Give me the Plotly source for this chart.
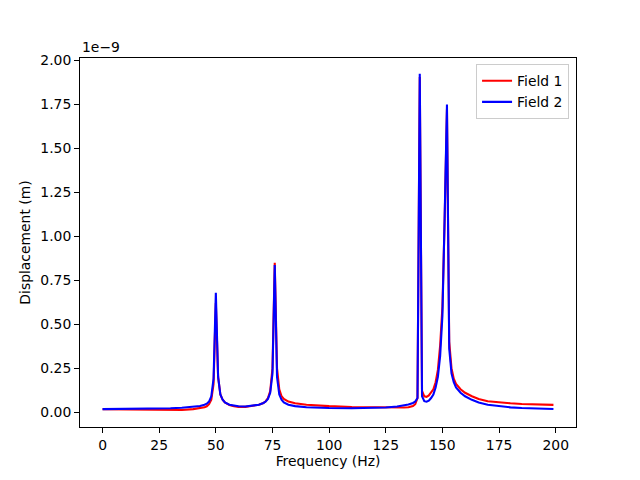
import plotly.graph_objects as go

# Frequencies (Hz)
freq = [0, 10, 20, 25, 30, 35, 40, 43, 45, 46, 47, 48, 49, 50, 51, 52, 53, 54, 56, 58,
        60, 63, 66, 69, 71, 72, 73, 74, 75, 76, 77, 78, 79, 80, 82, 85, 90, 95, 100,
        110, 120, 125, 130, 133, 135, 137, 138, 139, 140, 141, 142, 143, 144, 145, 146,
        147, 148, 149, 150, 151, 152, 153, 154, 155, 156, 158, 160, 163, 166, 170, 175,
        180, 185, 190, 199]

# Displacement in units of 1e-9 m
field1 = [0.016, 0.015, 0.013, 0.012, 0.011, 0.012, 0.017, 0.021, 0.027, 0.033, 0.045,
          0.07, 0.16, 0.62, 0.2, 0.1, 0.07, 0.055, 0.04, 0.033,
          0.03, 0.03, 0.034, 0.042, 0.052, 0.062, 0.08, 0.12, 0.25, 0.849, 0.25, 0.13,
          0.09, 0.075, 0.06, 0.05, 0.042, 0.037, 0.034,
          0.029, 0.026, 0.025, 0.025, 0.026, 0.028, 0.035, 0.045, 0.08, 1.905, 0.12,
          0.09, 0.087, 0.095, 0.11, 0.13,
          0.17, 0.24, 0.38, 0.6, 1.1, 1.72, 0.4, 0.25, 0.19, 0.16, 0.13, 0.11, 0.09,
          0.075, 0.062, 0.055,
          0.05, 0.046, 0.044, 0.041]

field2 = [0.017, 0.018, 0.019, 0.02, 0.022, 0.025, 0.03, 0.035, 0.042, 0.048, 0.06,
          0.09, 0.19, 0.679, 0.2, 0.1, 0.07, 0.055, 0.042, 0.036,
          0.033, 0.032, 0.035, 0.042, 0.052, 0.06, 0.075, 0.11, 0.22, 0.836, 0.2, 0.1,
          0.07, 0.055, 0.042, 0.034, 0.028, 0.025, 0.023,
          0.022, 0.024, 0.026, 0.032, 0.038, 0.043, 0.052, 0.06, 0.08, 1.924, 0.09,
          0.062, 0.059, 0.065, 0.08, 0.1,
          0.14, 0.2, 0.32, 0.55, 1.12, 1.748, 0.36, 0.22, 0.17, 0.14, 0.11, 0.09, 0.07,
          0.055, 0.042, 0.033,
          0.027, 0.023, 0.021, 0.018]

xticks = [0, 25, 50, 75, 100, 125, 150, 175, 200]
yticks = [0.0, 0.25, 0.5, 0.75, 1.0, 1.25, 1.5, 1.75, 2.0]

FONT = "DejaVu Sans"
FS = 13.9

fig = go.Figure()
fig.add_trace(go.Scatter(x=freq, y=field1, mode="lines", name="Field 1",
                         line=dict(color="red", width=2.08)))
fig.add_trace(go.Scatter(x=freq, y=field2, mode="lines", name="Field 2",
                         line=dict(color="blue", width=2.08)))

axis_common = dict(showline=True, linecolor="black", linewidth=1.1, mirror=True,
                   ticks="outside", ticklen=4.9, tickwidth=1.1, tickcolor="black",
                   showgrid=False, zeroline=False,
                   tickfont=dict(family=FONT, size=FS, color="black"))

fig.update_xaxes(range=[-9.95, 208.95], tickvals=xticks,
                 title=dict(text="Frequency (Hz)", font=dict(family=FONT, size=FS, color="black"),
                            standoff=4),
                 **axis_common)
fig.update_yaxes(range=[-0.0846, 2.013], tickvals=yticks, tickformat=".2f",
                 title=dict(text="Displacement (m)", font=dict(family=FONT, size=FS, color="black"),
                            standoff=6),
                 **axis_common)

fig.add_annotation(text="1e\u22129", xref="paper", yref="paper", x=0, y=1,
                   xanchor="left", yanchor="bottom", showarrow=False, yshift=1,
                   font=dict(family=FONT, size=FS, color="black"))

fig.update_layout(
    width=640, height=480,
    margin=dict(l=80, r=64, t=58, b=53, pad=0),
    paper_bgcolor="white", plot_bgcolor="white",
    font=dict(family=FONT, size=FS, color="black"),
    legend=dict(x=0.986, y=0.983, xanchor="right", yanchor="top",
                bgcolor="rgba(255,255,255,0.8)", bordercolor="#cccccc", borderwidth=1,
                font=dict(family=FONT, size=FS, color="black"),
                itemwidth=30, tracegroupgap=0),
    showlegend=True,
)

fig.write_html("out.html")
